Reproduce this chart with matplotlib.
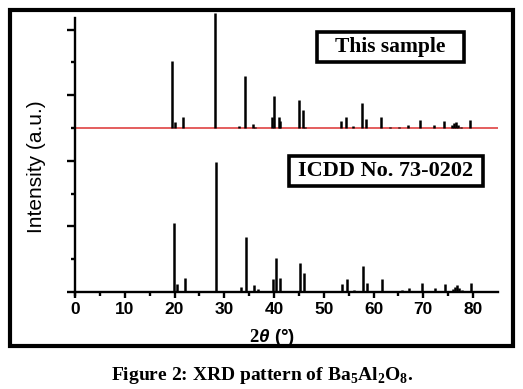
import numpy as np
import matplotlib
matplotlib.use("Agg")
import matplotlib.pyplot as plt
from matplotlib.patches import Rectangle

plt.rcParams['mathtext.fontset'] = 'custom'
plt.rcParams['mathtext.rm'] = 'Liberation Serif:bold'
plt.rcParams['mathtext.it'] = 'Liberation Sans:bold:italic'

# Peak positions (2theta, deg) and relative intensities (% of strongest)
sample_pos = [19.5, 20.1, 21.8, 28.1, 33.0, 34.1, 35.7, 36.1, 39.6, 40.0, 40.9, 41.1,
              45.0, 45.8, 46.2, 53.4, 54.4, 55.9, 57.6, 58.4, 61.4, 63.3, 65.2, 66.9,
              69.4, 72.1, 74.1, 75.8, 76.2, 76.6, 77.0, 77.6, 79.3]
sample_int = [58, 5, 10, 100, 2, 45, 3.5, 1, 10, 28, 10, 6,
              24, 16, 1, 6, 10, 1.3, 22, 7.5, 10, 0.5, 0.5, 2.6,
              7, 2.6, 6, 2.6, 4.3, 4.8, 2.6, 0.9, 7]

icdd_pos = [19.8, 20.4, 22.2, 28.3, 31.5, 32.4, 33.3, 34.4, 36.0, 36.7, 39.8, 40.3, 41.2,
            45.2, 46.0, 46.6, 51.5, 53.6, 54.6, 56.1, 57.9, 58.7, 61.7, 63.3, 64.1,
            65.7, 67.1, 69.8, 72.4, 74.4, 75.9, 76.3, 76.7, 77.2, 77.8, 79.6]
icdd_int = [53, 6, 11, 100, 0.8, 0.8, 4, 42, 5, 2, 10, 26, 11,
            22, 15, 0.8, 0.8, 6, 10, 1.5, 20, 7, 10, 0.8, 0.8,
            1.5, 3, 7, 3, 6, 2.3, 3.8, 5.4, 3, 1.5, 7]

xticks = [0, 10, 20, 30, 40, 50, 60, 70, 80]

offset = 5.0          # baseline of the sample pattern
sample_scale = 3.5 / 100
icdd_scale = 3.96 / 100

W, H = 523.0, 389.0
fig = plt.figure(figsize=(5.23, 3.89), dpi=100)
fig.patch.set_facecolor('white')
ax = fig.add_axes([0.1434, 0.2494, 0.8088, 0.7167])

ax.vlines(icdd_pos, 0, np.array(icdd_int) * icdd_scale, color='black', lw=1.8)
ax.vlines(sample_pos, offset, offset + np.array(sample_int) * sample_scale,
          color='black', lw=1.8)
ax.axhline(offset, color='#e25050', lw=1.3, zorder=1)

ax.set_xlim(0, 85)
ax.set_ylim(0, 8.5)
ax.spines['top'].set_visible(False)
ax.spines['right'].set_visible(False)
for s in ['left', 'bottom']:
    ax.spines[s].set_linewidth(1.7)
ax.spines['left'].set_bounds(-0.08, 8.35)

ax.set_xticks(xticks)
ax.set_xticks(np.arange(5, 85, 10), minor=True)
ax.set_yticks([0, 2, 4, 6, 8])
ax.set_yticks([1, 3, 5, 7], minor=True)
ax.set_yticklabels([])
ax.tick_params(axis='both', which='major', direction='out', width=1.7)
ax.tick_params(axis='x', which='major', length=4, pad=3)
ax.tick_params(axis='y', which='major', length=6)
ax.tick_params(axis='both', which='minor', direction='out', width=1.7, length=3)
for lab in ax.get_xticklabels():
    lab.set_fontfamily('Liberation Sans')
    lab.set_fontweight('bold')
    lab.set_fontsize(12.5)

fig.text(272 / W, 1 - 337 / H, r'$\mathit{2\theta}$ (°)', ha='center', va='center',
         fontfamily='Liberation Sans', fontweight='bold', fontsize=13.5)
fig.text(37 / W, 1 - 166.5 / H, 'Intensity (a.u.)', rotation=90, ha='center',
         va='center', fontfamily='Liberation Sans', fontsize=15)

# labelled boxes
def box(x0, y0, x1, y1, text, size):
    fig.patches.append(Rectangle((x0 / W, 1 - y1 / H), (x1 - x0) / W, (y1 - y0) / H,
                                 transform=fig.transFigure, fill=False,
                                 lw=2.6, ec='black'))
    fig.text((x0 + x1) / 2 / W, 1 - (y0 + y1) / 2 / H, text, ha='center',
             va='center', fontfamily='Liberation Serif', fontweight='bold',
             fontsize=size)

box(317, 32, 464, 62, 'This sample', 15.5)
box(289, 156, 483, 186, 'ICDD No. 73-0202', 16)

# outer frame
fig.patches.append(Rectangle((0.0191, 0.1105), 0.9618, 0.8638,
                             transform=fig.transFigure, fill=False, lw=3, ec='black'))

fig.text(262 / W, 1 - 375 / H, r'Figure 2: XRD pattern of Ba$_5$Al$_2$O$_8$.',
         ha='center', va='center', fontfamily='Liberation Serif',
         fontweight='bold', fontsize=14)

fig.savefig('out.png', dpi=100)
